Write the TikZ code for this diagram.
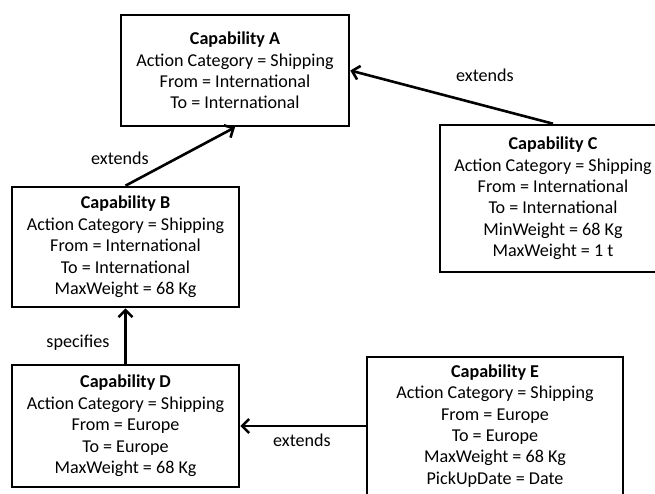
\documentclass[tikz,border=0pt]{standalone}
\usepackage{fontspec}
\setmainfont{Carlito}
\usetikzlibrary{arrows.meta}
\begin{document}
\begin{tikzpicture}[x=1pt,y=-1pt,
  capbox/.style={draw, line width=2.6pt, align=center, inner sep=0pt,
    font=\fontsize{18.1}{21.4}\selectfont},
  lbl/.style={font=\fontsize{18.1}{21}\selectfont, inner sep=0pt},
  arr/.style={line width=2.6pt, -{Straight Barb[length=7pt,width=14pt,line width=2.6pt]}}]
\useasboundingbox (0,0) rectangle (655,494);
\begin{scope}
\clip (0,0) rectangle (655,494);
\node[capbox, minimum width=228pt, minimum height=111pt] (A) at (235,70.5)
  {\textbf{Capability A}\\Action Category = Shipping\\From = International\\To = International};
\node[capbox, minimum width=226pt, minimum height=147pt] (C) at (553,198.5)
  {\textbf{Capability C}\\Action Category = Shipping\\From = International\\To = International\\MinWeight = 68 Kg\\MaxWeight = 1 t};
\node[capbox, minimum width=227pt, minimum height=120pt] (B) at (125.5,247)
  {\textbf{Capability B}\\Action Category = Shipping\\From = International\\To = International\\MaxWeight = 68 Kg};
\node[capbox, minimum width=227pt, minimum height=122pt] (D) at (125.5,426)
  {\textbf{Capability D}\\Action Category = Shipping\\From = Europe\\To = Europe\\MaxWeight = 68 Kg};
\node[capbox, minimum width=256pt, minimum height=138pt] (E) at (495,426)
  {\textbf{Capability E}\\Action Category = Shipping\\From = Europe\\To = Europe\\MaxWeight = 68 Kg\\PickUpDate = Date};
\end{scope}
\draw[arr] (C.north) -- (A.east);
\draw[arr] (B.north) -- (A.south);
\draw[arr] (D.north) -- (B.south);
\draw[arr] (E.west) -- (D.east);
\node[lbl] (lca) at (485,75) {extends};
\node[lbl] (lba) at (120,158) {extends};
\node[lbl] (ldb) at (78,343) {specifies};
\node[lbl] (led) at (302,440) {extends};
\end{tikzpicture}
\end{document}
